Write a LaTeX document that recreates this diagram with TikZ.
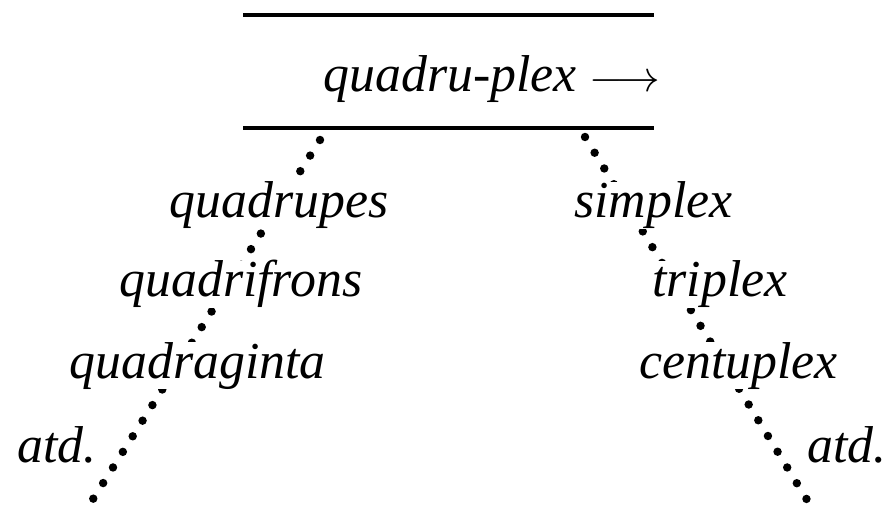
\documentclass[tikz,border=0pt]{standalone}
\usepackage{fontspec}
\setmainfont{Liberation Serif}
\usetikzlibrary{positioning,backgrounds}
\tikzset{
  lword/.style={font=\fontsize{29.5}{35}\selectfont\itshape,fill=white,inner sep=0pt,
                anchor=base west},
  lrule/.style={draw=black,line width=1.9pt},
  ldots/.style={draw=black,line width=4.8pt,line cap=round,dash pattern=on 0pt off 10.5pt},
}
\begin{document}
\begin{tikzpicture}[x=0.02cm,y=-0.02cm]
\useasboundingbox (0,0) rectangle (891,519);

% ============ head: the word between two rules ============
\coordinate (rtl) at (243,15);  \coordinate (rtr) at (654,15);
\coordinate (rbl) at (243,128); \coordinate (rbr) at (654,128);
\draw[lrule] (rtl) -- (rtr);
\draw[lrule] (rbl) -- (rbr);
\node[lword,fill=none] (head) at (323,92) {quadru-plex $\longrightarrow$};

% ============ left: words with the same first part ============
\node[lword] (quadrupes) at (169,218) {quadrupes};
\node[lword] (quadrifrons) at (119,297) {quadrifrons};
\node[lword] (quadraginta) at (69,378) {quadraginta};
\node[lword] (latd) at (17,462) {atd.};

% ============ right: words with the same last part ============
\node[lword] (simplex) at (574,218) {simplex};
\node[lword] (triplex) at (652,297) {triplex};
\node[lword] (centuplex) at (639,378) {centuplex};
\node[lword] (ratd) at (807,462) {atd.};

% dots run behind the words, so the white fill cuts them
\coordinate (ltop) at (320,140); \coordinate (lbot) at (88,507);
\coordinate (rtop) at (585,137); \coordinate (rbot) at (812,508);
\begin{scope}[on background layer]
  \draw[ldots] (ltop) -- (lbot);
  \draw[ldots] (rtop) -- (rbot);
\end{scope}
\end{tikzpicture}
\end{document}
